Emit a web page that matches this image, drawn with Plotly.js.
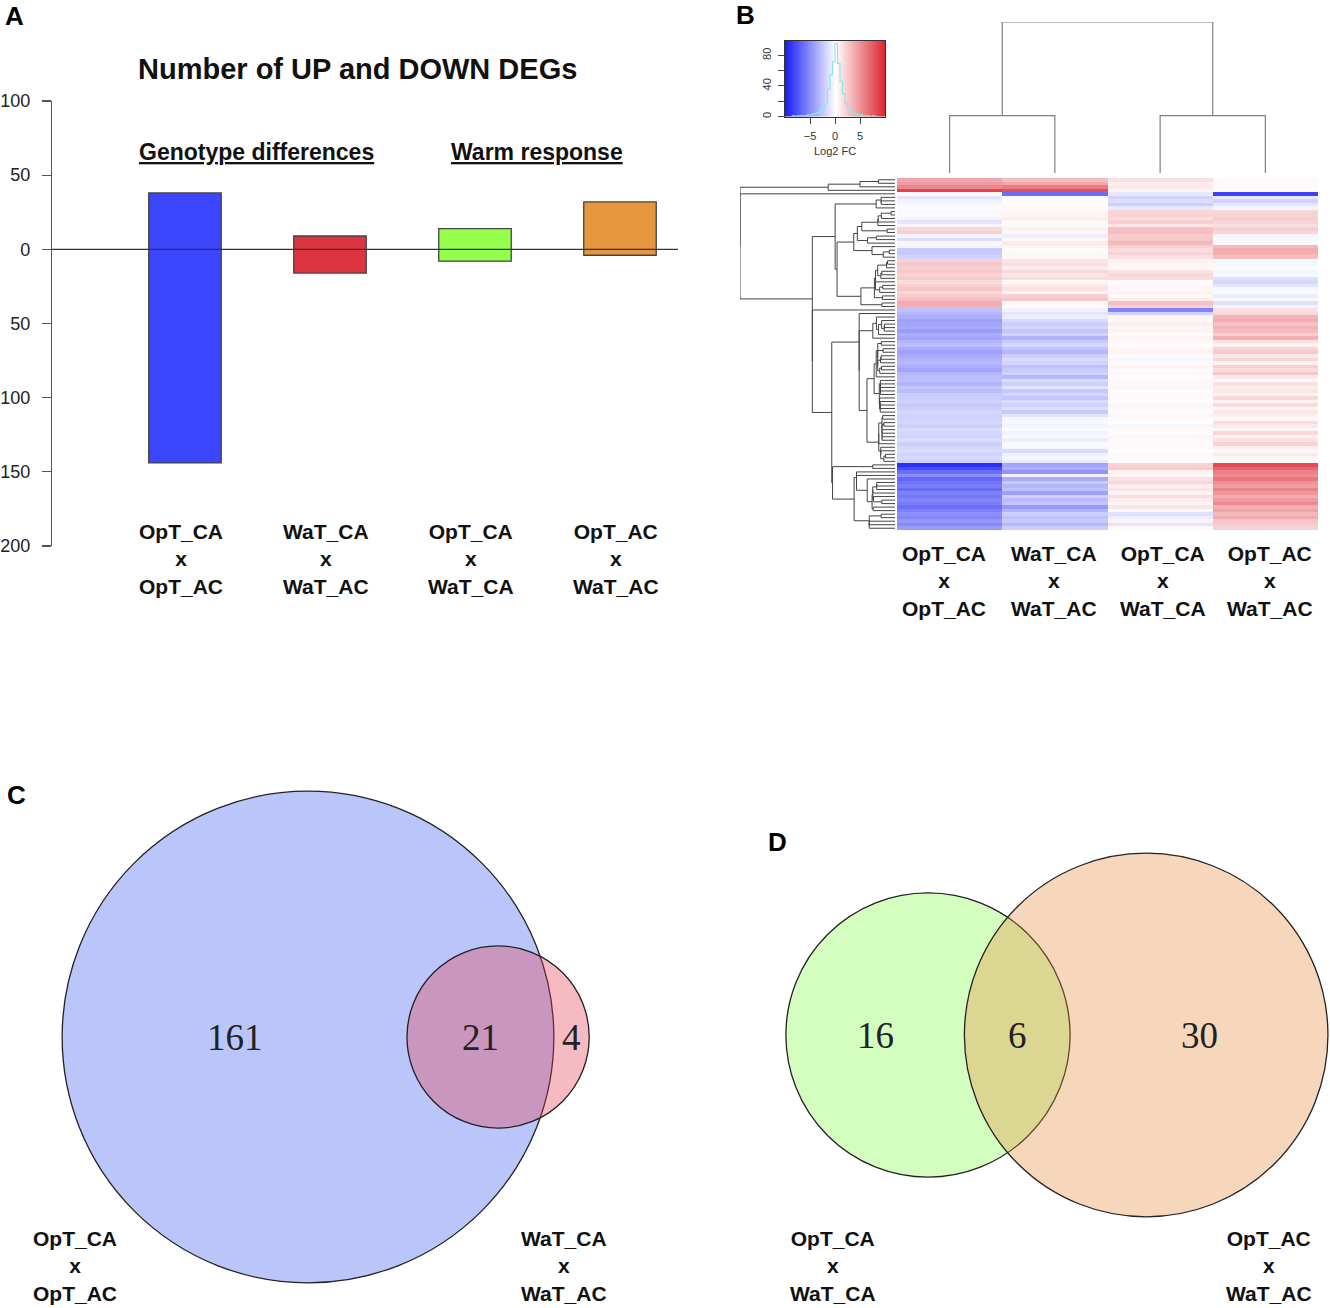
<!DOCTYPE html>
<html><head><meta charset="utf-8">
<script src="https://cdn.plot.ly/plotly-3.0.1.min.js"></script>
<style>html,body{margin:0;padding:0;background:#fff}</style>
</head><body><div id="chart" style="width:1330px;height:1308px"></div>
<script>
// ---------------- DATA ----------------
const comparisons = ['OpT_CA<br>x<br>OpT_AC','WaT_CA<br>x<br>WaT_AC','OpT_CA<br>x<br>WaT_CA','OpT_AC<br>x<br>WaT_AC'];
const upDEGs = [38, 9, 14, 32];
const downDEGs = [144, 16, 8, 4];
const barColors = ['#3c46fc','#dc3540','#96ff4b','#e6963c'];
const yTickVals = [100, 50, 0, -50, -100, -150, -200];
const groupTitles = ['Genotype differences', 'Warm response'];

// heatmap of log2 fold changes (rows = genes in dendrogram order, one array per comparison)
const hmCol1 = [4.0,4.5,5.5,8.5,0.3,-1.2,-0.6,-0.3,-0.2,-0.3,-0.2,0.6,-1.2,-0.4,1.8,2.2,-0.5,-1.5,0.5,-0.6,
  -2.4,-2.4,-2.0,2.0,2.5,2.2,2.6,2.0,2.4,1.6,2.2,2.6,1.8,2.4,3.0,3.8,3.5,-2.8,-3.2,-3.6,
  -4.2,-4.0,-3.8,-4.4,-3.6,-4.0,-3.4,-3.0,-3.6,-4.2,-3.8,-3.4,-3.2,-3.6,-4.0,-3.2,-3.0,-2.8,-3.4,-2.6,
  -3.0,-2.4,-2.2,-2.0,-2.4,-2.2,-1.8,-2.0,-2.0,-1.8,-2.2,-1.6,-1.8,-2.0,-1.6,-2.2,-1.8,-1.6,-2.0,-1.8,
  -2.2,-9.2,-8.0,-6.4,-5.0,-6.8,-6.2,-5.8,-6.6,-5.6,-6.0,-5.4,-5.8,-6.4,-5.6,-5.0,-5.4,-4.6,-5.2,-4.4];
const hmCol2 = [3.0,4.0,6.0,8.0,-6.5,0.3,0.2,0.1,0.3,0.4,0.5,0.8,0.3,-0.3,0.6,0.4,-0.8,0.3,1.0,0.6,
  0.2,0.3,0.4,1.2,1.5,0.8,1.8,1.2,1.6,0.4,1.0,1.4,0.5,2.2,2.6,0.3,0.2,-0.6,-1.2,-0.8,
  -1.6,-2.2,-1.8,-2.6,-2.0,-3.4,-2.4,-1.8,-2.6,-3.2,-2.2,-1.6,-2.0,-2.8,-2.4,-2.0,-3.2,-1.6,-2.2,-1.2,
  -2.4,-1.8,-2.6,-1.6,-2.0,-1.4,-2.4,-1.2,-0.4,-0.3,-0.5,-0.2,-0.6,-0.3,-0.8,-0.2,-0.4,-1.6,-0.6,-0.4,
  -1.0,-4.0,-3.6,-4.8,-0.6,-3.8,-2.4,-3.2,-2.8,-4.2,-2.2,-3.0,-2.6,-4.6,-3.4,-2.2,-2.8,-2.4,-3.2,-2.2];
const hmCol3 = [1.5,0.8,1.0,0.5,-1.0,-2.0,-1.5,-2.2,-1.0,1.8,2.0,1.6,2.2,1.2,2.8,3.0,2.4,2.6,3.2,2.2,
  1.6,2.0,1.4,0.6,0.5,0.3,1.2,1.8,1.6,0.2,0.3,0.4,0.6,0.3,0.8,2.8,2.2,-5.5,-2.0,0.5,
  0.3,0.8,0.4,0.6,0.2,0.5,0.3,0.1,0.4,0.6,0.2,-0.4,0.3,0.5,-0.2,0.4,0.2,-0.3,0.3,0.5,
  0.2,-0.2,0.3,0.1,0.4,-0.3,0.2,0.5,0.2,0.1,-0.4,0.3,0.2,0.5,0.3,-0.2,0.4,0.1,-0.3,0.2,
  0.1,2.0,2.4,0.6,0.4,1.4,1.8,0.8,1.2,0.6,1.6,0.9,0.5,1.2,0.4,-1.4,-0.8,0.6,-1.2,0.4];
const hmCol4 = [0.3,0.2,0.3,0.2,-8.5,-1.0,-2.0,-1.2,-0.5,1.8,2.0,2.4,2.0,1.5,2.2,1.8,-0.4,-0.3,-0.2,3.2,
  3.8,3.6,3.0,-0.3,-0.4,-0.2,-0.5,-0.3,-1.4,-1.8,-1.2,-0.4,-0.2,-0.8,-0.3,-1.4,-0.6,1.4,1.8,3.4,
  3.8,2.8,3.4,3.0,2.2,3.6,1.4,0.6,2.0,2.4,1.2,1.8,0.6,2.2,1.6,2.6,1.0,0.4,1.4,0.8,
  1.2,0.5,1.8,0.6,1.6,0.4,1.2,0.8,0.3,1.6,1.0,0.4,1.8,0.6,1.4,2.0,0.8,0.3,1.0,0.5,
  0.2,8.2,7.0,5.8,5.2,6.2,5.0,4.4,5.6,4.8,3.8,4.6,5.4,3.6,4.2,3.2,3.8,2.6,2.4,2.0];
const colMergeHeights = [3.8, 3.8, 10.0];   // (col1,col2), (col3,col4), root

// colour-key histogram of log2 FC values
const keyHistCenters = [-8.75,-8.25,-7.75,-7.25,-6.75,-6.25,-5.75,-5.25,-4.75,-4.25,-3.75,-3.25,-2.75,-2.25,-1.75,-1.25,-0.75,-0.25,
  0.25,0.75,1.25,1.75,2.25,2.75,3.25,3.75,4.25,4.75,5.25,5.75,6.25,6.75,7.25,7.75,8.25,8.75];
const keyHistCounts = [0,1,0,1,1,1,1,2,2,3,4,5,8,12,18,36,55,72,
  96,70,46,30,17,10,6,4,3,2,2,1,1,1,0,1,0,0];

// Venn diagrams
const vennCSets = ['OpT_CA<br>x<br>OpT_AC', 'WaT_CA<br>x<br>WaT_AC'];
const vennCCounts = [161, 21, 4];   // only A, both, only B
const vennDSets = ['OpT_CA<br>x<br>WaT_CA', 'OpT_AC<br>x<br>WaT_AC'];
const vennDCounts = [16, 6, 30];

// ---------------- HELPERS ----------------
const W = 1330, H = 1308;
const dx = (a, b) => [a / W, b / W];
const dy = (top, bot) => [1 - bot / H, 1 - top / H];
const PX = x => x / W, PY = y => 1 - y / H;
const SANS = 'Liberation Sans, Arial, sans-serif';
const hidden = {visible: false, showgrid: false, zeroline: false, fixedrange: true};
const heatScale = [[0,'rgb(25,30,245)'],[0.5,'rgb(255,255,255)'],[1,'rgb(220,35,45)']];

function lensArea(r1, r2, d) {
  if (d >= r1 + r2) return 0;
  if (d <= Math.abs(r1 - r2)) return Math.PI * Math.min(r1, r2) ** 2;
  const a1 = Math.acos((d*d + r1*r1 - r2*r2) / (2*d*r1));
  const a2 = Math.acos((d*d + r2*r2 - r1*r1) / (2*d*r2));
  return r1*r1*a1 + r2*r2*a2 - 0.5*Math.sqrt((-d+r1+r2)*(d+r1-r2)*(d-r1+r2)*(d+r1+r2));
}
function solveDist(r1, r2, ov) {
  let lo = Math.abs(r1 - r2), hi = r1 + r2;
  for (let i = 0; i < 80; i++) { const m = (lo + hi) / 2; if (lensArea(r1, r2, m) > ov) lo = m; else hi = m; }
  return (lo + hi) / 2;
}
function venn(counts) {
  const nA = counts[0] + counts[1], nB = counts[1] + counts[2];
  const rA = Math.sqrt(nA / Math.PI), rB = Math.sqrt(nB / Math.PI);
  const d = solveDist(rA, rB, counts[1]);
  const lx = [(-rA + d - rB) / 2, (d - rB + rA) / 2, (rA + d + rB) / 2];
  return {rA, rB, d, lx};
}
function vennAxes(box, cx, cy, s) {
  return {
    x: Object.assign({}, hidden, {domain: dx(box[0], box[2]), range: [(box[0]-cx)/s, (box[2]-cx)/s]}),
    y: Object.assign({}, hidden, {domain: dy(box[1], box[3]), range: [(cy-box[3])/s, (cy-box[1])/s]})
  };
}

// ---------------- PANEL A ----------------
const traces = [];
traces.push({
  type: 'bar', x: [0,1,2,3], y: upDEGs.map((u,i) => u + downDEGs[i]), base: downDEGs.map(d => -d),
  width: 0.5, marker: {color: barColors, line: {color: '#444', width: 1.3}},
  xaxis: 'x', yaxis: 'y', hoverinfo: 'skip'
});

// ---------------- PANEL B ----------------
const N = hmCol1.length;
const rows = hmCol1.map((v, i) => [hmCol1[i], hmCol2[i], hmCol3[i], hmCol4[i]]);
traces.push({
  type: 'heatmap', z: rows, x: [0,1,2,3], y: rows.map((r,i) => i),
  zmin: -10, zmax: 10, showscale: false, colorscale: heatScale,
  xaxis: 'x2', yaxis: 'y2', hoverinfo: 'skip'
});

// row dendrogram: order-preserving average-linkage clustering of the rows
const dist = rows.map(a => rows.map(b => Math.sqrt(a.reduce((s, v, k) => s + (v - b[k]) ** 2, 0))));
let clusters = rows.map((r, i) => ({members: [i], pos: i, h: 0}));
const rdX = [], rdY = [];
while (clusters.length > 1) {
  let best = 0, bestD = Infinity;
  for (let k = 0; k < clusters.length - 1; k++) {
    let s = 0;
    const ma = clusters[k].members, mb = clusters[k+1].members;
    for (const a of ma) for (const b of mb) s += dist[a][b];
    const m = s / (ma.length * mb.length);
    if (m < bestD) { bestD = m; best = k; }
  }
  const A = clusters[best], B = clusters[best+1];
  const h = Math.max(bestD, A.h, B.h);
  rdX.push(A.h, h, h, B.h, null); rdY.push(A.pos, A.pos, B.pos, B.pos, null);
  clusters.splice(best, 2, {members: A.members.concat(B.members), pos: (A.pos + B.pos) / 2, h});
}
const rootH = clusters[0].h;
traces.push({type: 'scatter', mode: 'lines', x: rdX, y: rdY, line: {color: '#444', width: 1},
  xaxis: 'x3', yaxis: 'y3', hoverinfo: 'skip', connectgaps: false});

// column dendrogram
const cdX = [0, 0, 1, 1, null, 2, 2, 3, 3, null, 0.5, 0.5, 2.5, 2.5];
const cdY = [0, colMergeHeights[0], colMergeHeights[0], 0, null, 0, colMergeHeights[1], colMergeHeights[1], 0, null,
  colMergeHeights[0], colMergeHeights[2], colMergeHeights[2], colMergeHeights[1]];
traces.push({type: 'scatter', mode: 'lines', x: cdX, y: cdY, line: {color: '#808080', width: 1.2},
  xaxis: 'x4', yaxis: 'y4', hoverinfo: 'skip'});

// colour key
traces.push({type: 'heatmap', z: [[-10, 0, 10], [-10, 0, 10]], x: [-10, 0, 10], y: [0, 99], zsmooth: 'best',
  zmin: -10, zmax: 10, showscale: false, colorscale: heatScale,
  xaxis: 'x5', yaxis: 'y5', hoverinfo: 'skip'});
traces.push({type: 'scatter', mode: 'lines', x: keyHistCenters, y: keyHistCounts,
  line: {color: '#8ee8ea', width: 1.2, shape: 'hvh'}, xaxis: 'x5', yaxis: 'y5', hoverinfo: 'skip'});

// ---------------- PANELS C, D ----------------
const vC = venn(vennCCounts), vD = venn(vennDCounts);
const axC = vennAxes([0, 770, 680, 1305], 308, 1037, 32.3);
const axD = vennAxes([700, 830, 1330, 1305], 928, 1035, 53.7);

const shapes = [
  {type: 'line', xref: 'x domain', x0: 0, x1: 1, yref: 'y', y0: 0, y1: 0, line: {color: '#333', width: 1.2}, layer: 'above'},
  {type: 'circle', xref: 'x6', yref: 'y6', x0: -vC.rA, x1: vC.rA, y0: -vC.rA, y1: vC.rA,
    fillcolor: 'rgb(186,198,250)', line: {color: '#222', width: 1.3}, layer: 'below'},
  {type: 'circle', xref: 'x6', yref: 'y6', x0: vC.d - vC.rB, x1: vC.d + vC.rB, y0: -vC.rB, y1: vC.rB,
    fillcolor: 'rgba(230,60,80,0.35)', line: {color: '#222', width: 1.3}, layer: 'below'},
  {type: 'circle', xref: 'x7', yref: 'y7', x0: -vD.rA, x1: vD.rA, y0: -vD.rA, y1: vD.rA,
    fillcolor: 'rgb(212,253,192)', line: {color: '#222', width: 1.3}, layer: 'below'},
  {type: 'circle', xref: 'x7', yref: 'y7', x0: vD.d - vD.rB, x1: vD.d + vD.rB, y0: -vD.rB, y1: vD.rB,
    fillcolor: 'rgba(232,140,60,0.35)', line: {color: '#222', width: 1.3}, layer: 'below'}
];

const ann = [];
const letter = (t, x, y) => ann.push({text: '<b>' + t + '</b>', xref: 'paper', yref: 'paper', x: PX(x), y: PY(y),
  showarrow: false, xanchor: 'center', yanchor: 'middle', font: {family: SANS, size: 26, color: '#000'}});
letter('A', 14, 16); letter('B', 745, 15); letter('C', 16, 795); letter('D', 777, 842);

ann.push({text: '<b>Number of UP and DOWN DEGs</b>', xref: 'paper', yref: 'paper', x: PX(357), y: PY(69),
  showarrow: false, xanchor: 'center', yanchor: 'middle', font: {family: SANS, size: 29, color: '#111'}});
[[groupTitles[0], 0.49], [groupTitles[1], 2.43]].forEach(g => ann.push({
  text: '<b><u>' + g[0] + '</u></b>', xref: 'x', yref: 'paper', x: g[1], y: PY(152), showarrow: false,
  xanchor: 'center', yanchor: 'middle', font: {family: SANS, size: 23, color: '#111'}}));
const hmLabelShift = [-6, -1, 3, 5];
comparisons.forEach((c, i) => {
  ann.push({text: '<b>' + c + '</b>', xref: 'x', yref: 'paper', x: i, y: PY(559), xshift: -4, showarrow: false,
    xanchor: 'center', yanchor: 'middle', font: {family: SANS, size: 21, color: '#111'}});
  ann.push({text: '<b>' + c + '</b>', xref: 'x2', yref: 'paper', x: i, y: PY(581), xshift: hmLabelShift[i], showarrow: false,
    xanchor: 'center', yanchor: 'middle', font: {family: SANS, size: 21, color: '#111'}});
});

const numFont = {family: 'Liberation Serif, Times New Roman, serif', size: 37, color: '#222'};
vennCCounts.forEach((n, i) => ann.push({text: String(n), xref: 'x6', yref: 'y6', x: vC.lx[i], y: 0,
  showarrow: false, xanchor: 'center', yanchor: 'middle', font: numFont}));
vennDCounts.forEach((n, i) => ann.push({text: String(n), xref: 'x7', yref: 'y7', x: vD.lx[i], y: 0,
  showarrow: false, xanchor: 'center', yanchor: 'middle', font: numFont}));
const setLab = (t, x) => ann.push({text: '<b>' + t + '</b>', xref: 'paper', yref: 'paper', x: PX(x), y: PY(1266),
  showarrow: false, xanchor: 'center', yanchor: 'middle', font: {family: SANS, size: 21, color: '#111'}});
setLab(vennCSets[0], 75); setLab(vennCSets[1], 564); setLab(vennDSets[0], 833); setLab(vennDSets[1], 1269);

const layout = {
  width: W, height: H, margin: {l: 0, r: 0, t: 0, b: 0}, paper_bgcolor: '#fff', plot_bgcolor: 'rgba(0,0,0,0)',
  showlegend: false, shapes, annotations: ann,
  xaxis: Object.assign({}, hidden, {domain: dx(52, 678), range: [-0.917, 3.4]}),
  yaxis: {domain: dy(101, 546), range: [-200, 100], tickvals: yTickVals, ticktext: yTickVals.map(v => String(Math.abs(v))),
    showline: true, linecolor: '#555', linewidth: 1.2, ticks: 'outside', ticklen: 9, tickcolor: '#555', tickwidth: 1.2,
    ticklabelstandoff: 8,
    showgrid: false, zeroline: false, fixedrange: true, tickfont: {family: SANS, size: 18, color: '#222'}, anchor: 'x'},
  xaxis2: Object.assign({}, hidden, {domain: dx(897, 1318), range: [-0.5, 3.5], anchor: 'y2'}),
  yaxis2: Object.assign({}, hidden, {domain: dy(178, 530), range: [N - 0.5, -0.5], anchor: 'x2'}),
  xaxis3: Object.assign({}, hidden, {domain: dx(740, 895), range: [rootH, 0], anchor: 'y3'}),
  yaxis3: Object.assign({}, hidden, {domain: dy(178, 530), range: [N - 0.5, -0.5], anchor: 'x3'}),
  xaxis4: Object.assign({}, hidden, {domain: dx(897, 1318), range: [-0.5, 3.5], anchor: 'y4'}),
  yaxis4: Object.assign({}, hidden, {domain: dy(22, 173), range: [0, colMergeHeights[2]], anchor: 'x4'}),
  xaxis5: {domain: dx(785, 885), range: [-10, 10], anchor: 'y5', tickvals: [-5, 0, 5], ticktext: ['\u22125', '0', '5'],
    ticks: 'outside', ticklen: 6, tickcolor: '#444', showline: true, mirror: true, linecolor: '#333', linewidth: 1,
    ticklabelstandoff: 3,
    showgrid: false, zeroline: false, fixedrange: true, tickfont: {family: SANS, size: 11, color: '#333'},
    title: {text: 'Log2 FC', font: {family: SANS, size: 11, color: '#333'}, standoff: 6}},
  yaxis5: {domain: dy(41, 116.5), range: [0, 99], anchor: 'x5', tickvals: [0, 20, 40, 60, 80], ticktext: ['0', '', '40', '', '80'],
    tickangle: -90, ticks: 'outside', ticklen: 6, tickcolor: '#444', showline: true, mirror: true, linecolor: '#333', linewidth: 1,
    ticklabelstandoff: 3,
    showgrid: false, zeroline: false, fixedrange: true, tickfont: {family: SANS, size: 11, color: '#333'}},
  xaxis6: Object.assign(axC.x, {anchor: 'y6'}), yaxis6: Object.assign(axC.y, {anchor: 'x6'}),
  xaxis7: Object.assign(axD.x, {anchor: 'y7'}), yaxis7: Object.assign(axD.y, {anchor: 'x7'})
};

Plotly.newPlot('chart', traces, layout, {staticPlot: true, displayModeBar: false});
</script></body></html>
